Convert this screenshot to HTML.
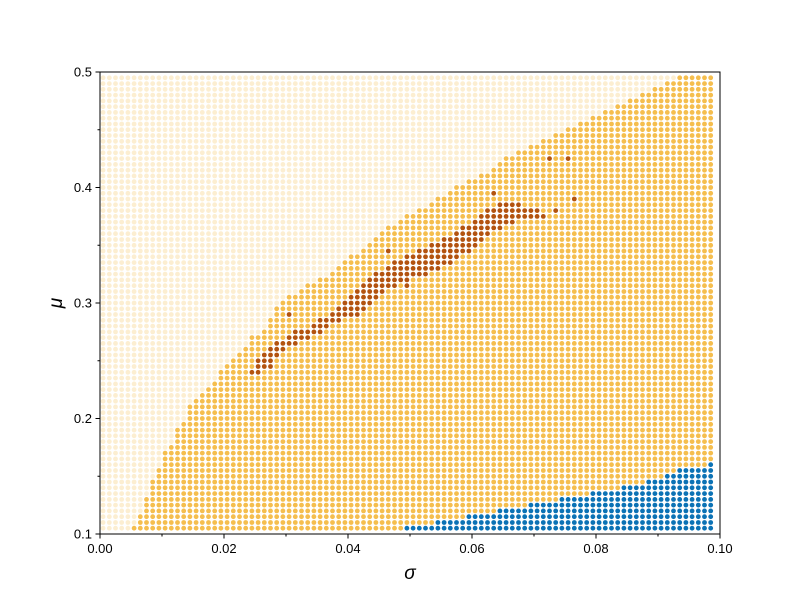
<!DOCTYPE html>
<html><head><meta charset="utf-8"><style>body{margin:0;background:#fff}svg{display:block}text{font-family:"Liberation Sans",sans-serif}</style></head>
<body>
<svg id="chart" width="800" height="600" xmlns="http://www.w3.org/2000/svg">
<g id="points"></g>
<rect x="100" y="72" width="620" height="462" fill="none" stroke="#000" stroke-width="1"/>
<g id="axes"></g>
<text x="410" y="579" font-size="19" font-style="italic" text-anchor="middle" font-family="DejaVu Serif, serif">σ</text>
<text x="62" y="303" font-size="19" font-style="italic" text-anchor="middle" transform="rotate(-90 62 303)" font-family="DejaVu Serif, serif">μ</text>
</svg>
<script>
// per-column data: column i is sigma = 0.0005 + 0.001*i, row k is mu = 0.1 + 0.005*k
const orangeTop = [0,0,0,0,0,1,3,6,9,11,14,15,18,19,22,23,24,25,26,28,29,30,31,32,34,34,35,37,39,40,41,41,42,43,43,44,44,45,46,47,48,48,49,50,51,52,53,53,54,55,55,56,56,57,58,58,59,60,60,61,61,62,62,63,64,65,65,66,66,67,67,68,68,69,69,70,70,71,71,72,72,73,73,74,74,75,75,76,76,77,77,78,78,79,79,79,79,79,79];
const blueTop = [0,0,0,0,0,0,0,0,0,0,0,0,0,0,0,0,0,0,0,0,0,0,0,0,0,0,0,0,0,0,0,0,0,0,0,0,0,0,0,0,0,0,0,0,0,0,0,0,0,1,1,1,1,1,2,2,2,2,2,3,3,3,3,3,4,4,4,4,4,5,5,5,5,5,6,6,6,6,6,7,7,7,7,7,8,8,8,8,9,9,9,10,10,11,11,11,11,11,12];
const brownStart = 24;
const brownLo = [28,28,29,29,31,32,33,33,34,34,35,35,36,37,37,38,38,38,39,40,41,42,43,43,44,44,45,45,45,46,46,47,47,48,49,49,50,51,52,53,53,54,54,55,55,55,55,55];
const brownHi = [28,30,31,32,33,33,34,35,35,35,36,37,37,38,39,40,41,42,43,44,45,45,46,47,47,48,48,49,49,50,50,51,51,52,53,53,54,55,56,56,57,57,57,57,56,56,56,55];
const brownExtraI = [30,46,49,63,73,76,72,75];
const brownExtraK = [38,49,43,59,56,58,65,65];
const orangeExtraI = [19,31,29];
const orangeExtraK = [21,40,36];
const xTicks = ["0.00","0.02","0.04","0.06","0.08","0.10"];
const yTicks = ["0.1","0.2","0.3","0.4","0.5"];

const NS="http://www.w3.org/2000/svg";
const X0=100,X1=720,Y0=534,Y1=72;
const xs=v=>X0+(v/0.1)*(X1-X0);
const ys=v=>Y0-((v-0.1)/0.4)*(Y0-Y1);
const pts=document.getElementById('points');
const isExtra=(I,K,i,k)=>I.some((v,j)=>v===i&&K[j]===k);
for(let i=0;i<orangeTop.length;i++){
  const s=0.0005+0.001*i;
  for(let k=1;k<=79;k++){
    const m=0.1+0.005*k;
    let fill="#f5be4e",op=1,name="orange-point";
    const bi=i-brownStart;
    if(k<=blueTop[i]){fill="#0b72b5";name="blue-point";}
    else if((bi>=0&&bi<brownLo.length&&k>=brownLo[bi]&&k<=brownHi[bi])||isExtra(brownExtraI,brownExtraK,i,k)){fill="#b3530f";name="brown-point";}
    else if(k>orangeTop[i]&&!isExtra(orangeExtraI,orangeExtraK,i,k)){op=0.26;name="faint-point";}
    const c=document.createElementNS(NS,'circle');
    
    
    c.setAttribute('cx',xs(s).toFixed(1));c.setAttribute('cy',ys(m).toFixed(1));
    c.setAttribute('r','2.4');c.setAttribute('fill',fill);
    if(op<1)c.setAttribute('fill-opacity',op);
    pts.appendChild(c);
  }
}
const ax=document.getElementById('axes');
function line(x1,y1,x2,y2,name){const l=document.createElementNS(NS,'line');
  
  
  l.setAttribute('x1',x1);l.setAttribute('y1',y1);l.setAttribute('x2',x2);l.setAttribute('y2',y2);l.setAttribute('stroke','#000');ax.appendChild(l);}
function txt(x,y,s,anchor,name){const t=document.createElementNS(NS,'text');
  
  
  t.setAttribute('x',x);t.setAttribute('y',y);t.setAttribute('font-size','13');t.setAttribute('text-anchor',anchor);t.textContent=s;ax.appendChild(t);}
xTicks.forEach(s=>{const x=xs(parseFloat(s));line(x,Y0,x,Y0+4.5,'x-tick');txt(x,Y0+19,s,'middle','x-tick-label');});
for(let j=0;j<5;j++){const x=xs(0.01+0.02*j);line(x,Y0,x,Y0+2.5,'x-minor-tick');}
yTicks.forEach(s=>{const y=ys(parseFloat(s));line(X0-4.5,y,X0,y,'y-tick');txt(X0-8,y+4.5,s,'end','y-tick-label');});
for(let j=0;j<4;j++){const y=ys(0.15+0.1*j);line(X0-2.5,y,X0,y,'y-minor-tick');}
</script>
</body></html>
